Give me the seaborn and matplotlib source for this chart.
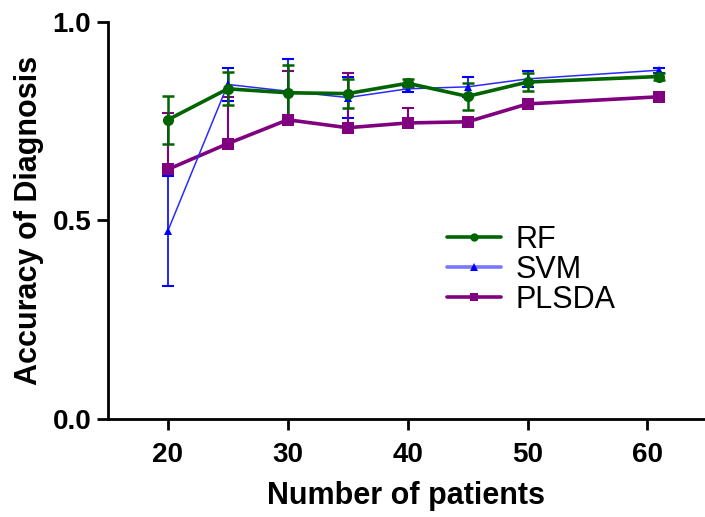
import numpy as np
import pandas as pd
import matplotlib
matplotlib.use("Agg")
import matplotlib.pyplot as plt
import seaborn as sns
from matplotlib.lines import Line2D

# data
patients = [20, 25, 30, 35, 40, 45, 50, 61]
rf = [0.753, 0.831, 0.821, 0.819, 0.845, 0.812, 0.848, 0.862]
rf_err = [0.060, 0.042, 0.070, 0.037, 0.010, 0.034, 0.022, 0.008]
svm = [0.473, 0.842, 0.825, 0.809, 0.831, 0.836, 0.856, 0.878]
svm_err = [0.138, 0.042, 0.080, 0.052, 0.008, 0.026, 0.020, 0.006]
plsda = [0.628, 0.693, 0.753, 0.733, 0.745, 0.748, 0.793, 0.811]
plsda_err = [0.143, 0.118, 0.122, 0.139, 0.038, 0.010, 0.010, 0.006]

models = ["RF", "SVM", "PLSDA"]
colors = {"RF": "#006400", "SVM": "#2a2aff", "PLSDA": "#800080"}
markers = {"RF": "o", "SVM": "^", "PLSDA": "s"}
widths = {"RF": 2.6, "SVM": 1.1, "PLSDA": 2.6}

df = pd.DataFrame({
    "patients": patients * 3,
    "acc": rf + svm + plsda,
    "model": ["RF"] * 8 + ["SVM"] * 8 + ["PLSDA"] * 8,
})

sns.set_style("ticks")
plt.rcParams["font.family"] = ["Liberation Sans", "DejaVu Sans"]
plt.rcParams["text.color"] = "black"
plt.rcParams["axes.labelcolor"] = "black"
plt.rcParams["xtick.color"] = "black"
plt.rcParams["ytick.color"] = "black"

fig = plt.figure(figsize=(7.05, 5.17), dpi=100)
ax = fig.add_axes([0.153, 0.19, 0.847, 0.768])

# error bars first (SVM, RF symmetric; PLSDA upward only)
ax.errorbar(patients, svm, yerr=svm_err, fmt="none", ecolor="#0000ff",
            elinewidth=1.2, capsize=4.5, capthick=1.5, zorder=2)
ax.errorbar(patients, plsda, yerr=[np.zeros(8), plsda_err], fmt="none",
            ecolor=colors["PLSDA"], elinewidth=1.5, capsize=4.5, capthick=1.5, zorder=2)
ax.errorbar(patients, rf, yerr=rf_err, fmt="none", ecolor=colors["RF"],
            elinewidth=1.8, capsize=4.5, capthick=1.8, zorder=3)

for m in ["PLSDA", "SVM", "RF"]:
    sub = df[df["model"] == m]
    sns.lineplot(data=sub, x="patients", y="acc", ax=ax, color=colors[m],
                 linewidth=widths[m], marker=markers[m],
                 markersize=8 if m != "SVM" else 6,
                 markeredgewidth=0, markerfacecolor=colors[m] if m != "SVM" else "#0000ff",
                 legend=False, zorder=4 if m == "RF" else 3)

ax.set_xlim(15, 64.8)
ax.set_ylim(0, 1.0)
ax.set_xticks([20, 30, 40, 50, 60])
ax.set_yticks([0.0, 0.5, 1.0])
ax.set_yticklabels(["0.0", "0.5", "1.0"])

for lab in ax.get_xticklabels() + ax.get_yticklabels():
    lab.set_fontweight("bold")
    lab.set_fontsize(20)

ax.tick_params(axis="both", width=2, length=8, color="black")
ax.tick_params(axis="x", pad=9)
ax.tick_params(axis="y", pad=4)
ax.spines["top"].set_visible(False)
ax.spines["right"].set_visible(False)
ax.spines["left"].set_linewidth(2)
ax.spines["bottom"].set_linewidth(2)
ax.spines["left"].set_color("black")
ax.spines["bottom"].set_color("black")

ax.set_xlabel("Number of patients", fontsize=22, fontweight="bold", labelpad=9)
ax.set_ylabel("Accuracy of Diagnosis", fontsize=22, fontweight="bold", labelpad=6)

handles = [
    Line2D([], [], color=colors["RF"], lw=2.6, marker="o", markersize=6, markeredgewidth=0),
    Line2D([], [], color="#7777ff", lw=2.6, marker="^", markersize=6,
           markerfacecolor="#0000ff", markeredgewidth=0),
    Line2D([], [], color=colors["PLSDA"], lw=2.6, marker="s", markersize=6, markeredgewidth=0),
]
ax.legend(handles, models, loc="center left", bbox_to_anchor=(0.568, 0.375),
          frameon=False, fontsize=22, handlelength=1.75, labelspacing=0.0,
          handletextpad=0.5, borderpad=0, borderaxespad=0)

fig.savefig("out.png", dpi=100)
